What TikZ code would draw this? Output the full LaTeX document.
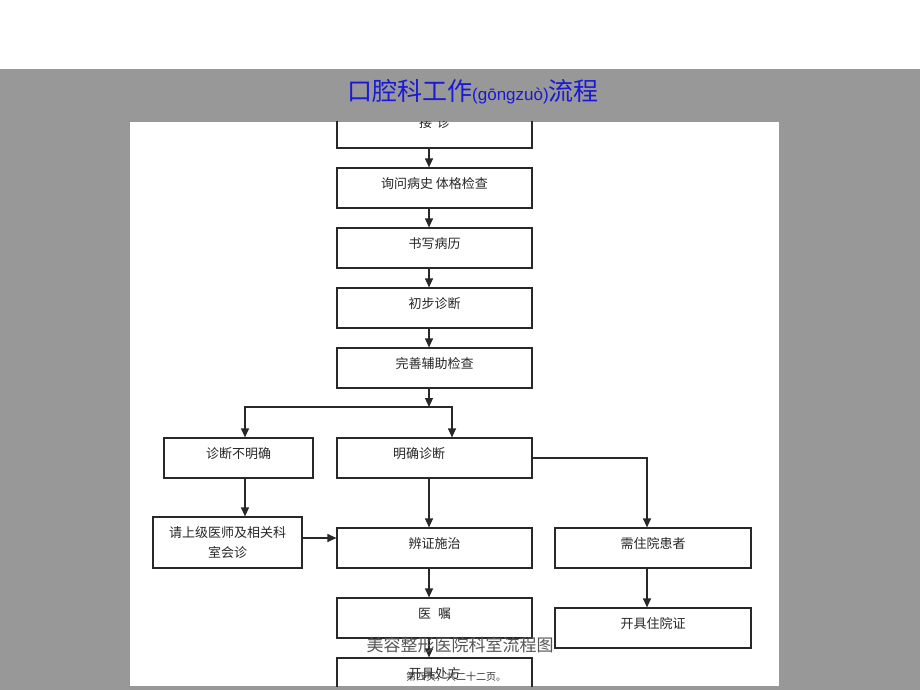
\documentclass[tikz,border=0pt]{standalone}
\usepackage{fontspec}
\setmainfont{Noto Sans CJK SC}
\newfontfamily\pinyinfont{Liberation Sans}
\usetikzlibrary{arrows.meta}
\definecolor{bggray}{RGB}{152,152,152}
\definecolor{titleblue}{RGB}{25,25,215}
\definecolor{linecol}{RGB}{40,40,40}
\definecolor{footgray}{RGB}{85,85,85}
\tikzset{
  box/.style={draw=linecol, line width=1.2pt, rectangle, minimum height=40pt,
    font=\fontsize{13pt}{15pt}\selectfont, text=black!85, inner sep=0pt,
    text height=10pt, text depth=10pt},
  mainbox/.style={box, minimum width=195pt},
  sidebox/.style={box, minimum width=149pt},
  rightbox/.style={box, minimum width=196pt},
  arr/.style={draw=linecol, line width=1.2pt, -{Triangle[length=9pt,width=8pt]}},
}
\begin{document}
\begin{tikzpicture}[x=1pt,y=-1pt]
\useasboundingbox (0,0) rectangle (920,690);
\fill[white] (0,0) rectangle (920,69);
\fill[bggray] (0,69) rectangle (920,690);
\fill[white] (130,122) rectangle (779,686);
\node[text=titleblue, inner sep=0pt, anchor=center] (title) at (473,92)
  {\fontsize{25pt}{28pt}\selectfont 口腔科工作{\pinyinfont\fontsize{17pt}{20pt}\selectfont(gōngzuò)}流程};
\begin{scope}
\clip (130,122) rectangle (779,686);
\node[mainbox] (b1) at (434.5,128) {接\hspace{5pt}诊};
\node[mainbox] (b2) at (434.5,188) {询问病史 体格检查};
\node[mainbox] (b3) at (434.5,248) {书写病历};
\node[mainbox] (b4) at (434.5,308) {初步诊断};
\node[mainbox] (b5) at (434.5,368) {完善辅助检查};
\node[sidebox] (u1) at (238.5,458) {诊断不明确};
\node[mainbox] (m1) at (434.5,458) {明确诊断\hspace*{31pt}};
\node[sidebox, minimum height=51pt, text height=, text depth=, align=center,
  font=\fontsize{13pt}{20pt}\selectfont] (u2) at (227.5,542.5) {请上级医师及相关科\\室会诊};
\node[mainbox] (t) at (434.5,548) {辨证施治};
\node[rightbox] (h1) at (653,548) {需住院患者};
\node[rightbox] (h2) at (653,628) {开具住院证};
\node[mainbox] (y1) at (434.5,618) {医\hspace{7pt}嘱};
\node[mainbox] (p) at (434.5,678) {开具处方};
\coordinate (split) at (429,407);
\draw[arr] ([xshift=-5.5pt]b1.south) -- ([xshift=-5.5pt]b2.north);
\draw[arr] ([xshift=-5.5pt]b2.south) -- ([xshift=-5.5pt]b3.north);
\draw[arr] ([xshift=-5.5pt]b3.south) -- ([xshift=-5.5pt]b4.north);
\draw[arr] ([xshift=-5.5pt]b4.south) -- ([xshift=-5.5pt]b5.north);
\draw[arr] ([xshift=-5.5pt]b5.south) -- (split);
\draw[arr] (split) -| ([xshift=6.5pt]u1.north);
\draw[arr] (split) -| ([xshift=17.5pt]m1.north);
\draw[arr] ([xshift=6.5pt]u1.south) -- ([xshift=6.5pt]u1.south |- u2.north);
\draw[arr] ([yshift=4.5pt]u2.east) -- ([yshift=4.5pt]u2.east -| t.west);
\draw[arr] ([xshift=-5.5pt]m1.south) -- ([xshift=-5.5pt]t.north);
\draw[arr] (m1.east) -| ([xshift=-6pt]h1.north);
\draw[arr] ([xshift=-6pt]h1.south) -- ([xshift=-6pt]h2.north);
\draw[arr] ([xshift=-5.5pt]t.south) -- ([xshift=-5.5pt]y1.north);
\draw[arr] ([xshift=-5.5pt]y1.south) -- ([xshift=-5.5pt]p.north);
\end{scope}
\node[text=footgray, inner sep=0pt] (cap) at (460,645)
  {\fontsize{17pt}{20pt}\selectfont 美容整形医院科室流程图};
\node[text=black!80, inner sep=0pt, anchor=west] (pg) at (406,677)
  {\fontsize{10pt}{12pt}\selectfont 第四页，共二十二页。};
\end{tikzpicture}
\end{document}
